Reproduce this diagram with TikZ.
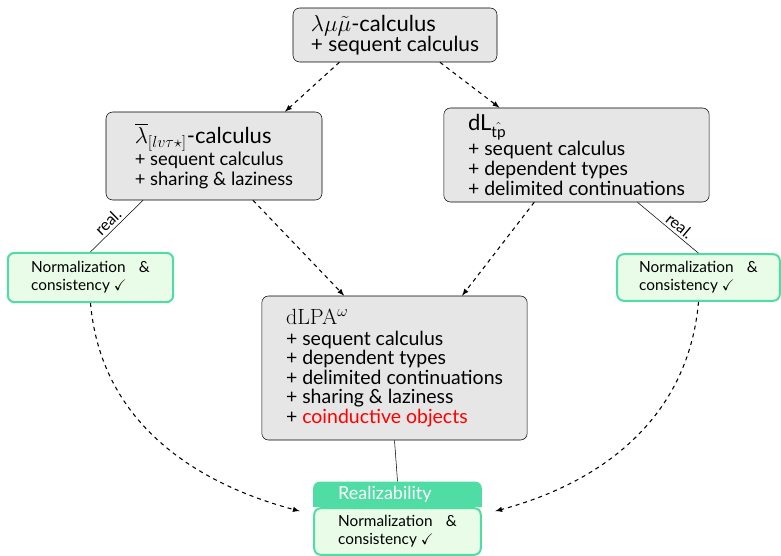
\documentclass[tikz,border=0pt]{standalone}
\usepackage{amsmath}
\usepackage{amssymb}
\usepackage{fontspec}
\setsansfont{Lato}
\usetikzlibrary{positioning}
\definecolor{grisboite}{RGB}{230,230,230}
\definecolor{vertreal}{RGB}{80,220,165}
\definecolor{vertclair}{RGB}{232,252,232}
\begin{document}
\begin{tikzpicture}[x=0.75pt,y=-0.75pt]
	% Styles
	\tikzstyle{calcul}=[fill=grisboite,draw,rounded corners=5pt,align=left,inner sep=0pt]
	\tikzstyle{resultat}=[fill=vertclair,draw=vertreal,line width=1.5pt,rounded corners=5pt,text width=89pt,align=justify,font=\sffamily\fontsize{11.5}{13.5}\selectfont]
	\tikzstyle{titrereal}=[fill=vertreal,text=white,inner sep=0pt,text width=89pt,align=left,font=\sffamily\fontsize{13.5}{15}\selectfont]
	\tikzstyle{lien}=[->,>=latex,dashed,thick]
	\tikzstyle{realise}=[-,thin]
	\tikzstyle{etiquette}=[sloped,above,inner sep=2pt,font=\sffamily\fontsize{12}{14}\selectfont]
	\newcommand{\titre}[1]{{\fontsize{16.5}{18}\selectfont #1}}
	% Cadre
	\useasboundingbox (0,0) rectangle (781,556);
	% Noeuds
	\node[calcul,minimum width=153pt,minimum height=40.5pt,font=\sffamily\fontsize{15.6}{15}\selectfont] (Mu) at (395,35)
		{\titre{$\lambda\mu\tilde{\mu}$-calculus}\\+ sequent calculus};
	\node[calcul,minimum width=162pt,minimum height=66pt,font=\sffamily\fontsize{13.8}{15}\selectfont] (Lv) at (214,156)
		{\titre{$\overline{\lambda}_{[lv\tau\star]}$-calculus}\\+ sequent calculus\\+ sharing \& laziness};
	\node[calcul,minimum width=199pt,minimum height=70.5pt,font=\sffamily\fontsize{14.6}{15}\selectfont] (Dl) at (576.5,155)
		{\titre{dL$_{\hat{\text{tp}}}$}\\+ sequent calculus\\+ dependent types\\+ delimited continuations};
	\node[calcul,minimum width=199pt,minimum height=108pt,font=\sffamily\fontsize{14.6}{14.6}\selectfont] (Dlpa) at (394.5,368)
		{\titre{{\rmfamily dLPA}$^{\omega}$}\\[1pt]+ sequent calculus\\+ dependent types\\+ delimited continuations\\+ sharing \& laziness\\+ \textcolor{red}{coinductive objects}};
	\node[resultat,minimum width=124pt,minimum height=37pt] (NormG) at (90.5,277.5)
		{Normalization \& consistency $\checkmark$};
	\node[resultat,minimum width=122pt,minimum height=35pt] (NormD) at (698.5,277.5)
		{Normalization \& consistency $\checkmark$};
	\node[resultat,minimum width=125pt,minimum height=35pt] (Corps) at (397.5,531.5)
		{Normalization \& consistency $\checkmark$};
	\node[titrereal,anchor=south,minimum width=126.5pt,minimum height=19pt,rounded corners=5pt] (Real) at (Corps.north) {};
	\fill[vertreal] (Real.west) rectangle (Real.south east);
	\node[titrereal,fill=none] at (Real.center) {Realizability};
	% Arcs
	\draw[lien] ([xshift=35pt]Mu.south west) -- ([xshift=-28pt]Lv.north east);
	\draw[lien] ([xshift=-43pt]Mu.south east) -- ([xshift=42pt]Dl.north west);
	\draw[lien] ([xshift=-52pt]Lv.south east) -- ([xshift=62pt]Dlpa.north west);
	\draw[lien] ([xshift=68pt]Dl.south west) -- ([xshift=-49pt]Dlpa.north east);
	\draw[realise] (NormG.north) -- ([xshift=28pt]Lv.south west) node[etiquette,pos=0.45] {real.};
	\draw[realise] ([xshift=-54pt]Dl.south east) -- (NormD.north) node[etiquette,pos=0.6] {real.};
	\draw[realise] (Dlpa.south) -- (Real.north);
	\draw[lien] (NormG.south) to[out=-85,in=165] ([xshift=-10pt,yshift=-3pt]Corps.north west);
	\draw[lien] (NormD.south) to[out=-95,in=15] ([xshift=10pt,yshift=-3pt]Corps.north east);
\end{tikzpicture}
\end{document}
